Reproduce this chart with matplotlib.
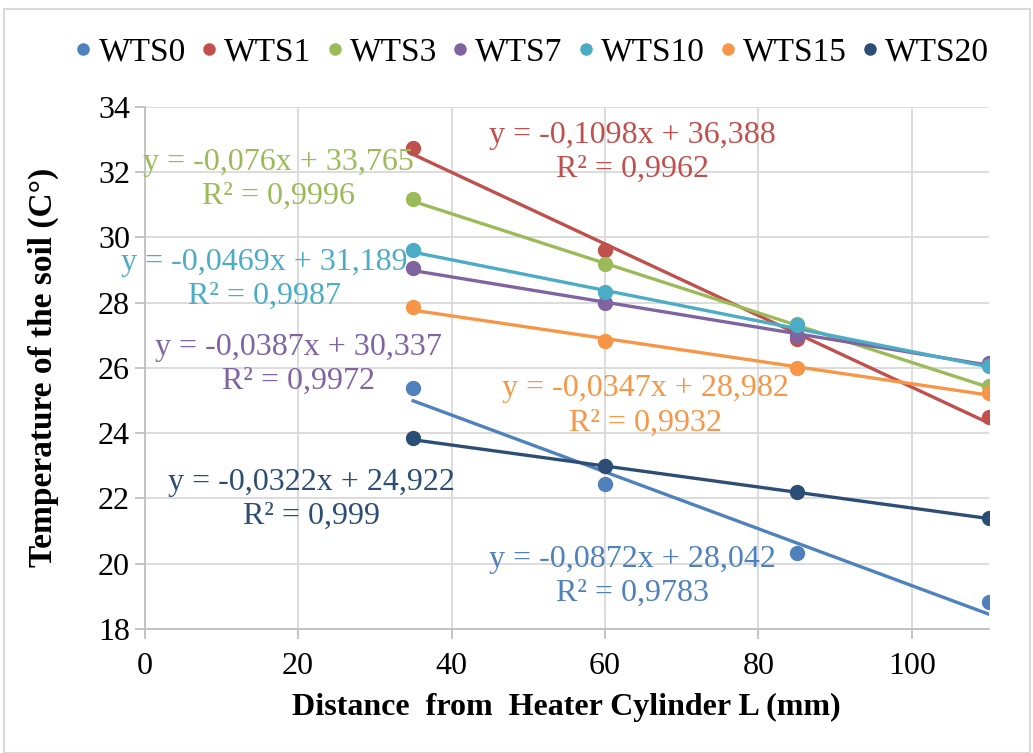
import numpy as np
import matplotlib.pyplot as plt
from matplotlib.patches import Rectangle

plt.rcParams['font.family'] = ['Liberation Serif', 'DejaVu Serif']

distance = np.array([35, 60, 85, 110])
series_names = ["WTS0", "WTS1", "WTS3", "WTS7", "WTS10", "WTS15", "WTS20"]
wts0 = [25.37, 22.44, 20.31, 18.83]
wts1 = [32.75, 29.61, 26.87, 24.50]
wts3 = [31.17, 29.17, 27.34, 25.45]
wts7 = [29.05, 27.98, 26.97, 26.16]
wts10 = [29.61, 28.32, 27.31, 26.07]
wts15 = [27.87, 26.83, 25.98, 25.24]
wts20 = [23.86, 22.99, 22.20, 21.40]
temps = [wts0, wts1, wts3, wts7, wts10, wts15, wts20]

# trendline coefficients and labels as shown by Excel
slopes = [-0.0872, -0.1098, -0.076, -0.0387, -0.0469, -0.0347, -0.0322]
intercepts = [28.042, 36.388, 33.765, 30.337, 31.189, 28.982, 24.922]
eq_labels = ["y = -0,0872x + 28,042", "y = -0,1098x + 36,388", "y = -0,076x + 33,765",
             "y = -0,0387x + 30,337", "y = -0,0469x + 31,189", "y = -0,0347x + 28,982",
             "y = -0,0322x + 24,922"]
r2_labels = ["R² = 0,9783", "R² = 0,9962", "R² = 0,9996", "R² = 0,9972",
             "R² = 0,9987", "R² = 0,9932", "R² = 0,999"]
label_pos = [(63.6, 19.6), (63.6, 32.6), (17.5, 31.78), (20.1, 26.1), (15.6, 28.71),
             (65.3, 24.83), (21.8, 21.96)]

colors = ["#4F81BD", "#C0504D", "#9BBB59", "#8064A2", "#4BACC6", "#F79646", "#2C4D75"]

fig = plt.figure(figsize=(10.33, 7.53), dpi=100)
ax = fig.add_axes([0.140, 0.165, 0.817, 0.693])

xl = np.array([distance[0], distance[-1]])
for i in range(len(series_names)):
    ax.plot(distance, temps[i], "o", color=colors[i], markersize=10, label=series_names[i], zorder=3)
    ax.plot(xl, slopes[i] * xl + intercepts[i], "-", color=colors[i], lw=2.4, zorder=2)
    px, py = label_pos[i]
    ax.annotate(eq_labels[i], (px, py), xytext=(0, 17), textcoords="offset pixels",
                color=colors[i], fontsize=23, ha="center", va="center", zorder=4)
    ax.annotate(r2_labels[i], (px, py), xytext=(0, -17), textcoords="offset pixels",
                color=colors[i], fontsize=23, ha="center", va="center", zorder=4)

ax.set_xlim(0, 110)
ax.set_ylim(18, 34)
ax.set_xticks(np.arange(0, 101, 20))
ax.set_yticks(np.arange(18, 35, 2))
ax.grid(True, color="#D9D9D9", lw=1.3)
ax.set_axisbelow(True)
for s in ["top", "right"]:
    ax.spines[s].set_visible(False)
for s in ["left", "bottom"]:
    ax.spines[s].set_color("#BFBFBF")
    ax.spines[s].set_linewidth(1.3)
ax.tick_params(axis="both", colors="#BFBFBF", labelcolor="black", labelsize=23, length=7, width=1.3)
ax.tick_params(axis="x", pad=10)

ax.set_xlabel("Distance  from  Heater Cylinder L (mm)", fontsize=23, fontweight="bold", labelpad=8)
ax.set_ylabel("Temperature of the soil (C°)", fontsize=24, fontweight="bold", labelpad=28)

fig.legend(loc="center", bbox_to_anchor=(0.512, 0.93), ncol=7, frameon=False, fontsize=24,
           handletextpad=0.0, columnspacing=0.25, handlelength=0.9, markerscale=0.8)

fig.patches.append(Rectangle((0.004, 0.0), 0.993, 0.988, transform=fig.transFigure,
                             fill=False, edgecolor="#D9D9D9", lw=1.5))

fig.savefig("out.png", dpi=100)
